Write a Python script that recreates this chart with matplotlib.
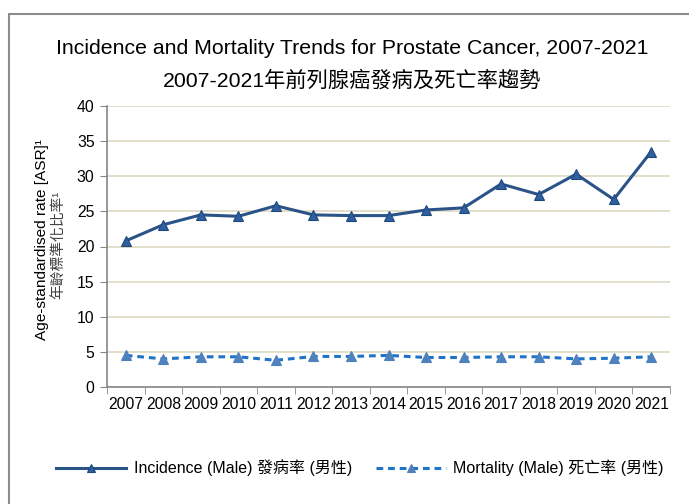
import numpy as np
import matplotlib.pyplot as plt
from matplotlib.patches import Rectangle

plt.rcParams['font.family'] = ['Liberation Sans', 'Noto Sans CJK TC', 'DejaVu Sans']

# values
years = ["2007", "2008", "2009", "2010", "2011", "2012", "2013", "2014",
         "2015", "2016", "2017", "2018", "2019", "2020", "2021"]
incidence = [20.8, 23.1, 24.5, 24.3, 25.8, 24.5, 24.4, 24.4,
             25.2, 25.5, 28.9, 27.4, 30.3, 26.7, 33.5]
mortality = [4.5, 4.0, 4.3, 4.3, 3.8, 4.35, 4.35, 4.5,
             4.2, 4.2, 4.3, 4.3, 4.0, 4.1, 4.3]

fig = plt.figure(figsize=(6.89, 5.04), dpi=100)
ax = fig.add_axes([107 / 689, 1 - 387 / 504, 563 / 689, 281 / 504])

x = np.arange(len(years))
ax.plot(x, incidence, color="#2a5388", lw=2.2, marker="^", ms=6.5,
        mfc="#2f5f9e", mec="#1f497d", mew=0.8,
        label="Incidence (Male) 發病率 (男性)")
ax.plot(x, mortality, color="#1f73c8", lw=2.2, ls=(0, (2.2, 1.6)), marker="^", ms=6.5,
        mfc="#4f81bd", mec="#4f81bd", mew=0.8,
        label="Mortality (Male) 死亡率 (男性)")

ax.set_xlim(-0.5, len(years) - 0.5)
ax.set_ylim(0, 40)
ax.set_yticks(range(0, 41, 5))
ax.set_xticks(x)
ax.set_xticklabels(years)
ax.set_xticks(np.arange(-0.5, len(years), 1), minor=True)
ax.tick_params(axis="x", which="major", length=0, pad=7, labelsize=11.3)
ax.tick_params(axis="x", which="minor", length=5, color="#868686", direction="out")
ax.tick_params(axis="y", length=5, color="#868686", direction="out", labelsize=11.3, pad=4)

ax.grid(axis="y", color="#ddd9c3", lw=1.2)
ax.set_axisbelow(True)
for side in ["top", "right"]:
    ax.spines[side].set_visible(False)
for side in ["left", "bottom"]:
    ax.spines[side].set_color("#868686")
    ax.spines[side].set_linewidth(1.2)

# outer frame
fig.patches.append(Rectangle((9 / 689, -0.1), 1.1, 1 - 14 / 504 + 0.1,
                             transform=fig.transFigure, fill=False,
                             ec="#8c8c8c", lw=1.5))

fig.text(352 / 689, 1 - 48 / 504, "Incidence and Mortality Trends for Prostate Cancer, 2007-2021",
         ha="center", va="center", fontsize=15.3)
fig.text(352 / 689, 1 - 80 / 504, "2007-2021年前列腺癌發病及死亡率趨勢",
         ha="center", va="center", fontsize=15.3)

fig.text(42 / 689, 1 - 240 / 504, "Age-standardised rate [ASR]¹", rotation=90,
         ha="center", va="center", fontsize=11.1)
fig.text(59 / 689, 1 - 245 / 504, "年齡標準化比率¹", rotation=90,
         ha="center", va="center", fontsize=10.6, color="#404040")

fig.legend(loc="center", bbox_to_anchor=(360 / 689, 1 - 468 / 504), ncol=2,
           frameon=False, fontsize=11.5, handlelength=4.4, handletextpad=0.45,
           columnspacing=1.5, markerscale=0.9)

fig.savefig("out.png", dpi=100)
